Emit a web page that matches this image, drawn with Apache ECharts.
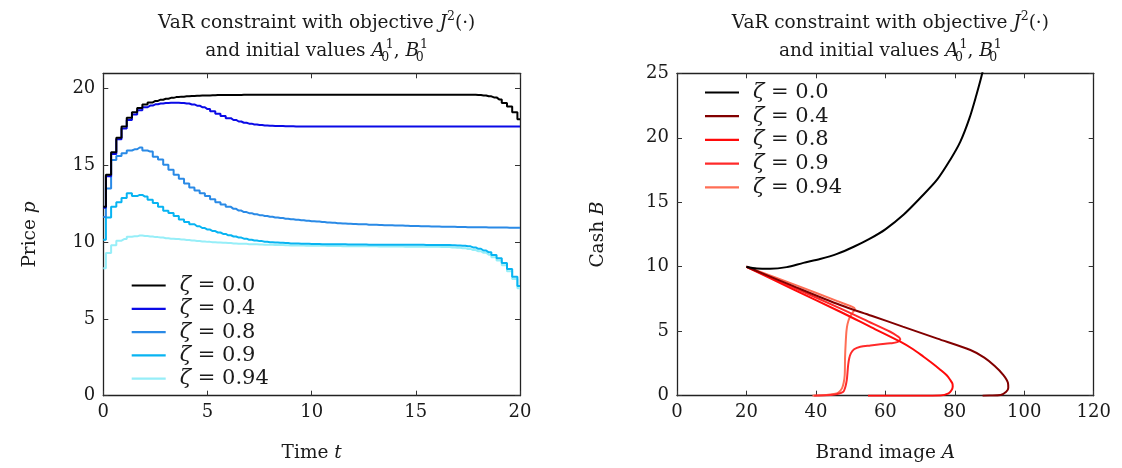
<!DOCTYPE html>
<html><head><meta charset="utf-8">
<script src="https://cdn.jsdelivr.net/npm/echarts@6/dist/echarts.min.js"></script>
<style>html,body{margin:0;padding:0;background:#fff}#c{width:1122px;height:468px}</style>
</head><body><div id="c"></div>
<script>
// ---- Left panel: price p over time t (step series, dt = 0.25) ----
const T = [0,0.25,0.5,0.75,1,1.25,1.5,1.75,2,2.25,2.5,2.75,3,3.25,3.5,3.75,4,4.25,4.5,4.75,5,5.25,5.5,5.75,6,6.25,6.5,6.75,7,7.25,7.5,7.75,8,8.25,8.5,8.75,9,9.25,9.5,9.75,10,10.25,10.5,10.75,11,11.25,11.5,11.75,12,12.25,12.5,12.75,13,13.25,13.5,13.75,14,14.25,14.5,14.75,15,15.25,15.5,15.75,16,16.25,16.5,16.75,17,17.25,17.5,17.75,18,18.25,18.5,18.75,19,19.25,19.5,19.75,20];
const P00 = [12.3,14.4,15.86,16.8,17.53,18.1,18.46,18.74,18.96,19.1,
  19.2,19.28,19.34,19.4,19.45,19.48,19.5,19.52,19.54,19.55,
  19.56,19.57,19.58,19.58,19.59,19.59,19.59,19.6,19.6,19.6,
  19.6,19.6,19.6,19.6,19.6,19.6,19.6,19.6,19.6,19.6,
  19.6,19.6,19.6,19.6,19.6,19.6,19.6,19.6,19.6,19.6,
  19.6,19.6,19.6,19.6,19.6,19.6,19.6,19.6,19.6,19.6,
  19.6,19.6,19.6,19.61,19.61,19.61,19.61,19.61,19.61,19.61,
  19.6,19.6,19.58,19.55,19.5,19.43,19.3,19.07,18.83,18.46,
  18.0];
const P04 = [12.25,14.3,15.75,16.7,17.4,17.95,18.32,18.6,18.79,18.9,
  18.98,19.03,19.06,19.08,19.08,19.07,19.03,18.97,18.89,18.79,
  18.67,18.52,18.37,18.22,18.08,17.96,17.86,17.78,17.72,17.67,
  17.63,17.6,17.58,17.57,17.56,17.55,17.55,17.54,17.54,17.54,
  17.54,17.54,17.54,17.54,17.54,17.54,17.54,17.54,17.54,17.54,
  17.53,17.53,17.53,17.53,17.53,17.53,17.53,17.53,17.53,17.53,
  17.53,17.53,17.53,17.53,17.53,17.53,17.53,17.53,17.53,17.53,
  17.53,17.53,17.53,17.53,17.53,17.53,17.53,17.53,17.53,17.53,
  17.53];
const P08 = [11.64,13.5,15.35,15.62,15.8,15.97,16.05,16.17,15.97,15.9,
  15.56,15.38,15.05,14.72,14.4,14.13,13.82,13.56,13.36,13.18,
  13.0,12.8,12.6,12.45,12.3,12.17,12.06,11.96,11.89,11.82,
  11.76,11.71,11.66,11.61,11.57,11.53,11.49,11.46,11.43,11.4,
  11.37,11.34,11.31,11.28,11.26,11.24,11.22,11.2,11.19,11.17,
  11.16,11.14,11.13,11.12,11.11,11.1,11.09,11.08,11.07,11.06,
  11.05,11.04,11.03,11.02,11.02,11.01,11.0,11.0,10.99,10.99,
  10.98,10.98,10.97,10.97,10.96,10.96,10.95,10.95,10.94,10.94,
  10.94];
const P09 = [10.15,11.6,12.3,12.6,12.88,13.18,13.0,13.08,12.97,12.77,
  12.55,12.3,12.05,11.9,11.7,11.48,11.32,11.17,11.04,10.92,
  10.82,10.72,10.63,10.54,10.45,10.37,10.3,10.23,10.16,10.11,
  10.07,10.03,10.0,9.98,9.96,9.94,9.92,9.91,9.9,9.89,
  9.88,9.88,9.87,9.87,9.86,9.86,9.86,9.85,9.85,9.85,
  9.85,9.84,9.84,9.84,9.84,9.84,9.84,9.83,9.83,9.83,
  9.83,9.83,9.82,9.82,9.82,9.81,9.81,9.8,9.79,9.77,
  9.73,9.66,9.57,9.46,9.34,9.17,8.95,8.65,8.25,7.75,
  7.15];
const P94 = [8.3,9.3,9.8,10.1,10.2,10.36,10.38,10.43,10.4,10.37,
  10.33,10.3,10.26,10.23,10.2,10.17,10.14,10.11,10.08,10.05,
  10.02,10.0,9.98,9.96,9.94,9.92,9.9,9.89,9.87,9.86,
  9.85,9.84,9.83,9.82,9.81,9.8,9.79,9.79,9.78,9.77,
  9.77,9.76,9.76,9.75,9.75,9.75,9.74,9.74,9.74,9.73,
  9.73,9.73,9.73,9.72,9.72,9.72,9.72,9.72,9.71,9.71,
  9.71,9.71,9.7,9.7,9.7,9.69,9.68,9.66,9.64,9.61,
  9.56,9.49,9.41,9.31,9.18,9.02,8.8,8.5,8.1,7.6,
  7.0];

// ---- Right panel: trajectories (brand image A, cash B) ----
const A00 = [20,23,26.8,31.6,36.4,41.2,46.1,50.9,55.7,60,65.3,70.1,74.9,78.7,81.6,84.2,86.2,87.9,89.0];
const B00 = [10,9.86,9.84,9.97,10.3,10.6,11.0,11.55,12.2,12.9,14.05,15.35,16.75,18.3,19.7,21.5,23.3,25,26.5];
const A04 = [20,33,47,56,65,75,84.5,88.5,91.5,94,95.3,95.4,94.8,93.2,90,88];
const B04 = [10,8.55,7.03,6.2,5.36,4.43,3.54,2.95,2.3,1.6,1.0,0.6,0.3,0.06,0.01,0];
const A08 = [20,33,47,56,64.3,68,71,73.6,75.9,77.6,78.7,79.3,79.4,79,78.2,75.9,70,65,60,55];
const B08 = [10,8.3,6.51,5.3,4.19,3.6,3.02,2.5,2.0,1.6,1.22,0.95,0.7,0.4,0.18,0.02,0,0,0,0];
const A09 = [20,33,47,55,61.4,63.3,64.3,63.4,61.4,58,55.7,52.8,51,50.1,49.6,49.3,49.1,48.9,48.5,47.9,46,44.1,41.5,39.5];
const B09 = [10,8.45,6.77,5.77,4.96,4.65,4.4,4.15,4.06,3.97,3.9,3.8,3.6,3.3,2.9,2.4,1.8,1.22,0.7,0.31,0.12,0.05,0.01,0];
const A94 = [20,35,46,49.5,51.0,51.2,50.6,49.7,49.1,48.8,48.6,48.4,48.3,48.0,47.5,46.5,45.1,43,40.5,39];
const B94 = [10,8.5,7.35,7.0,6.82,6.7,6.45,6.05,5.55,5.0,4.2,3.0,1.6,1.0,0.57,0.25,0.13,0.05,0.01,0];

const ZETA = ['0.0','0.4','0.8','0.9','0.94'];
const LEFT_COLORS = ['#000000','#0a0ae6','#2a8ae6','#08b4f2','#96eef8'];
const RIGHT_COLORS = ['#000000','#820000','#ff0a0a','#ff2a2a','#ff6e55'];
const X1_TICKS = {min:0,max:20,interval:5};
const Y1_TICKS = {min:0,max:21,interval:5};
const X2_TICKS = {min:0,max:120,interval:20};
const Y2_TICKS = {min:0,max:25,interval:5};

const FF = 'DejaVu Serif';
const TXT = '#1a1a1a';
const chart = echarts.init(document.getElementById('c'));

function titleRich(){
  return {
    n:{fontFamily:FF,fontSize:18.5,fontWeight:'normal',color:TXT,lineHeight:26},
    i:{fontFamily:FF,fontSize:18.5,fontWeight:'normal',fontStyle:'italic',color:TXT,lineHeight:26},
    sp:{fontFamily:FF,fontSize:12.5,fontWeight:'normal',color:TXT,verticalAlign:'top',lineHeight:15},
    sb:{fontFamily:FF,fontSize:12.5,fontWeight:'normal',color:TXT,verticalAlign:'bottom',lineHeight:13,width:1,align:'left'}
  };
}
const L1 = '{n|VaR constraint with objective }{i|J}{sp|2}{n|(·)}';
const L2 = '{n|and initial values }{i|A}{sb|0}{sp|1}{n|, }{i|B}{sb|0}{sp|1}';

const LEFT_X = 103.3, RIGHT_X = 677, GW = 416.7, GT = 73.3, GH = 322.4;
const c1 = LEFT_X + GW/2, c2 = RIGHT_X + GW/2;

function axisCommon(show){
  return {
    axisLine:{show:true,onZero:false,lineStyle:{color:'#222',width:1.3}},
    axisTick:{show:true,inside:true,length:5,lineStyle:{color:'#333',width:1}},
    splitLine:{show:false},
    axisLabel:{show:show,fontFamily:FF,fontSize:18,color:TXT,margin:8},
    z:3
  };
}
const nameRich = {
  n:{fontFamily:FF,fontSize:18.5,color:TXT},
  i:{fontFamily:FF,fontSize:18.5,fontStyle:'italic',color:TXT}
};

function leftSeries(vals, k){
  return {
    name:'L'+k, type:'line', xAxisIndex:0, yAxisIndex:0,
    data:T.map((t,i)=>[t, vals[i]]),
    step:'middle', symbol:'none', animation:false,
    lineStyle:{color:LEFT_COLORS[k],width:2}, itemStyle:{color:LEFT_COLORS[k]}
  };
}
function rightSeries(a, b, k){
  return {
    name:'R'+k, type:'line', xAxisIndex:2, yAxisIndex:2,
    data:a.map((v,i)=>[v, b[i]]),
    smooth:0.3, symbol:'none', animation:false,
    lineStyle:{color:RIGHT_COLORS[k],width:2}, itemStyle:{color:RIGHT_COLORS[k]}
  };
}
const legendRich = {
  i:{fontFamily:FF,fontSize:21,fontStyle:'italic',color:TXT,lineHeight:22,padding:[0,0,0,9]},
  n:{fontFamily:FF,fontSize:21,color:TXT,lineHeight:22}
};
function legendFmt(name){ return '{i|ζ}{n| = ' + ZETA[+name.slice(1)] + '}'; }

const option = {
  backgroundColor:'#ffffff',
  animation:false,
  title:[
    {text:L1,left:c1,top:5,textAlign:'center',textStyle:{fontWeight:'normal',rich:titleRich()}},
    {text:L2,left:c1,top:33,textAlign:'center',textStyle:{fontWeight:'normal',rich:titleRich()}},
    {text:L1,left:c2,top:5,textAlign:'center',textStyle:{fontWeight:'normal',rich:titleRich()}},
    {text:L2,left:c2,top:33,textAlign:'center',textStyle:{fontWeight:'normal',rich:titleRich()}}
  ],
  grid:[
    {left:LEFT_X,top:GT,width:GW,height:GH},
    {left:RIGHT_X,top:GT,width:GW,height:GH}
  ],
  legend:[
    {orient:'vertical',left:131.7,top:275,padding:0,icon:'rect',itemWidth:34,itemHeight:2.2,itemGap:2.3,
     data:['L0','L1','L2','L3','L4'],formatter:legendFmt,textStyle:{rich:legendRich},selectedMode:false},
    {orient:'vertical',left:705,top:82,padding:0,icon:'rect',itemWidth:34,itemHeight:2.2,itemGap:2.7,
     data:['R0','R1','R2','R3','R4'],formatter:legendFmt,textStyle:{rich:legendRich},selectedMode:false}
  ],
  xAxis:[
    Object.assign({gridIndex:0,type:'value',position:'bottom',...X1_TICKS,
      name:'{n|Time }{i|t}',nameLocation:'middle',nameGap:48,nameTextStyle:{rich:nameRich}},axisCommon(true)),
    Object.assign({gridIndex:0,type:'value',position:'top',...X1_TICKS},axisCommon(false)),
    Object.assign({gridIndex:1,type:'value',position:'bottom',...X2_TICKS,
      name:'{n|Brand image }{i|A}',nameLocation:'middle',nameGap:48,nameTextStyle:{rich:nameRich}},axisCommon(true)),
    Object.assign({gridIndex:1,type:'value',position:'top',...X2_TICKS},axisCommon(false))
  ],
  yAxis:[
    Object.assign({gridIndex:0,type:'value',position:'left',...Y1_TICKS,
      name:'{n|Price }{i|p}',nameLocation:'middle',nameGap:64,nameTextStyle:{rich:nameRich}},axisCommon(true)),
    Object.assign({gridIndex:0,type:'value',position:'right',...Y1_TICKS},axisCommon(false)),
    Object.assign({gridIndex:1,type:'value',position:'left',...Y2_TICKS,
      name:'{n|Cash }{i|B}',nameLocation:'middle',nameGap:69,nameTextStyle:{rich:nameRich}},axisCommon(true)),
    Object.assign({gridIndex:1,type:'value',position:'right',...Y2_TICKS},axisCommon(false))
  ],
  series:[
    leftSeries(P94,4), leftSeries(P09,3), leftSeries(P08,2), leftSeries(P04,1), leftSeries(P00,0),
    rightSeries(A94,B94,4), rightSeries(A09,B09,3), rightSeries(A08,B08,2), rightSeries(A04,B04,1), rightSeries(A00,B00,0)
  ]
};
option.yAxis[0].axisLabel.showMaxLabel = false;
chart.setOption(option);
</script></body></html>
